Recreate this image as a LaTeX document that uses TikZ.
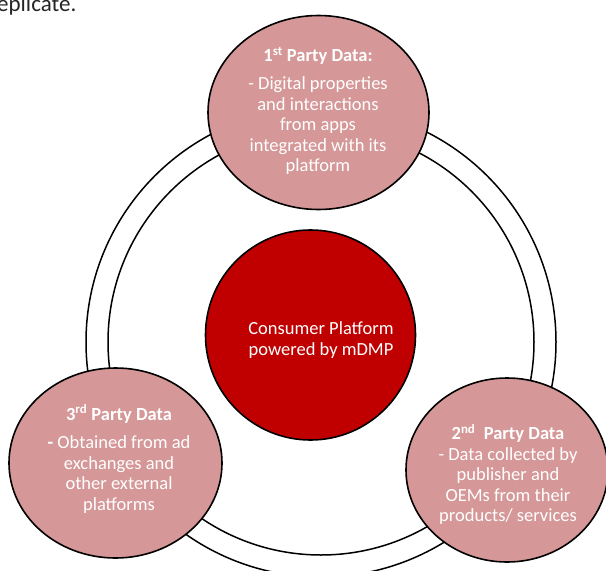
\documentclass[tikz,border=0pt]{standalone}
\usepackage{fontspec}
\setmainfont{Carlito}
\usetikzlibrary{shapes.geometric}
\definecolor{partypink}{RGB}{213,151,151}
\definecolor{coreRed}{RGB}{192,0,0}
\tikzset{
  ringline/.style={draw=black, line width=1.5pt},
  partybubble/.style={ellipse, draw=black, line width=1.6pt, fill=partypink, inner sep=0pt},
  corebubble/.style={ellipse, draw=black, line width=1.6pt, fill=coreRed, inner sep=0pt},
  bubbletext/.style={text=white, align=center, font=\fontsize{18.5}{20.5}\selectfont, inner sep=0pt},
}
\begin{document}
\begin{tikzpicture}[x=1pt, y=-1pt]
  \useasboundingbox (0,0) rectangle (606,571);
  \fill[white] (0,0) rectangle (606,571);

  % caption fragment at the top edge
  \node[anchor=base west, inner sep=0pt, text=black!85, font=\fontsize{23}{26}\selectfont] (caption) at (-3,11) {eplicate.};

  % double ring linking the three data sources
  \coordinate (hub) at (321,342);
  \draw[ringline] (hub) circle[radius=235pt];
  \draw[ringline] (hub) circle[radius=213pt];

  % data source bubbles
  \node[partybubble, minimum width=221pt, minimum height=194pt] (first) at (318.5,112.5) {};
  \node[partybubble, minimum width=213pt, minimum height=190pt] (third) at (115.5,463) {};
  \node[partybubble, minimum width=202pt, minimum height=184pt] (second) at (507,470) {};

  % central platform
  \node[corebubble, minimum width=210pt, minimum height=210pt] (core) at (310.5,335) {};

  % texts
  \node[bubbletext] (firsttext) at (318,111) {\textbf{1\textsuperscript{st} Party Data:}\\[7.5pt]- Digital properties\\and interactions\\from apps\\integrated with its\\platform};
  \node[bubbletext] (thirdtext) at (119,459) {\textbf{3\textsuperscript{rd} Party Data}\\[8pt]\textbf{-} Obtained from ad\\exchanges and\\other external\\platforms};
  \node[bubbletext] (secondtext) at (508,474.5) {\textbf{2\textsuperscript{nd}\ \ Party Data}\\- Data collected by\\publisher and\\OEMs from their\\products/ services};
  \node[bubbletext] (coretext) at (321,340) {Consumer Platform\\powered by mDMP};
\end{tikzpicture}
\end{document}
